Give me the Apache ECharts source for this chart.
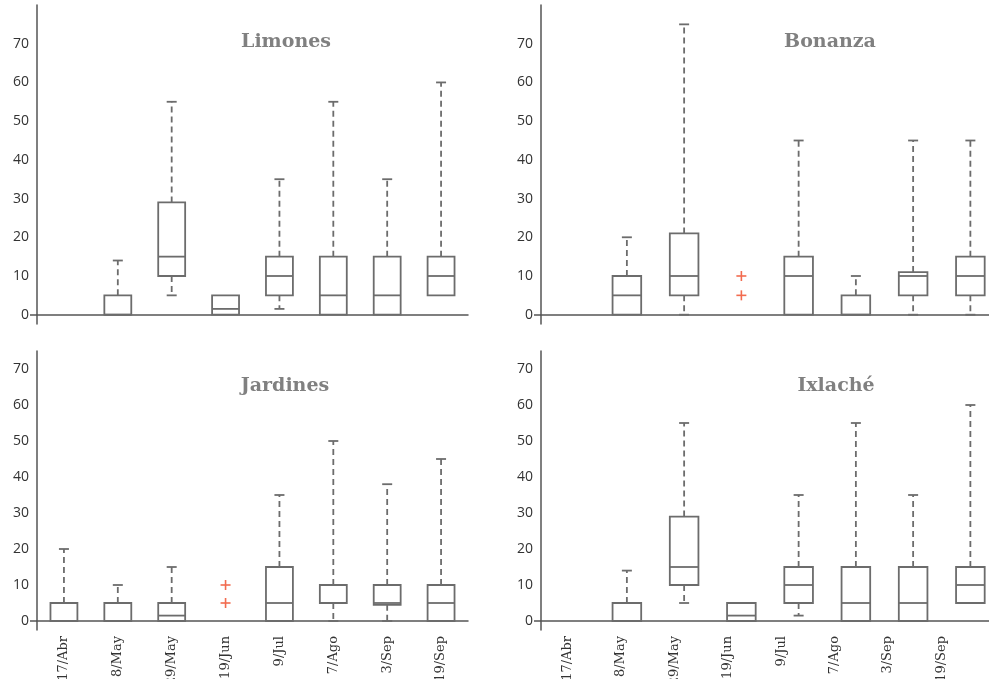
<!DOCTYPE html>
<html>
<head>
<meta charset="utf-8">
<script src="https://cdn.jsdelivr.net/npm/echarts@6/dist/echarts.min.js"></script>
<style>
  html, body { margin: 0; padding: 0; background: #ffffff; }
  #chart { width: 989px; height: 679px; }
</style>
</head>
<body>
<div id="chart"></div>
<script>
// Sampling dates shared by every site
const categories = ['17/Abr', '8/May', '29/May', '19/Jun', '9/Jul', '7/Ago', '3/Sep', '19/Sep'];
const yTickLabels = [0, 10, 20, 30, 40, 50, 60, 70];

// Box statistics per date: [min, Q1, median, Q3, max]; null = no box
const limones = [null, [0, 0, 0, 5, 14], [5, 10, 15, 29, 55], [0, 0, 1.5, 5, 5], [1.5, 5, 10, 15, 35], [0, 0, 5, 15, 55], [0, 0, 5, 15, 35], [5, 5, 10, 15, 60]];
const limonesOutliers = [];

const bonanza = [null, [0, 0, 5, 10, 20], [0, 5, 10, 21, 75], null, [0, 0, 10, 15, 45], [0, 0, 0, 5, 10], [0, 5, 10, 11, 45], [0, 5, 10, 15, 45]];
const bonanzaOutliers = [['19/Jun', 10], ['19/Jun', 5]];

const jardines = [[0, 0, 0, 5, 20], [0, 0, 0, 5, 10], [0, 0, 1.5, 5, 15], null, [0, 0, 5, 15, 35], [0, 5, 5, 10, 50], [0, 4.5, 5, 10, 38], [0, 0, 5, 10, 45]];
const jardinesOutliers = [['19/Jun', 10], ['19/Jun', 5]];

const ixlache = [null, [0, 0, 0, 5, 14], [5, 10, 15, 29, 55], [0, 0, 1.5, 5, 5], [1.5, 5, 10, 15, 35], [0, 0, 5, 15, 55], [0, 0, 5, 15, 35], [5, 5, 10, 15, 60]];
const ixlacheOutliers = [];

const titles = ['Limones', 'Bonanza', 'Jardines', 'Ixlaché'];

const BOX_COLOR = '#6c6c6c';
const AXIS_COLOR = '#555555';
const OUTLIER_COLOR = '#f26b4f';

function toRows(stats) {
  const rows = [];
  stats.forEach((s, i) => { if (s) rows.push([i].concat(s)); });
  return rows;
}

function renderBox(params, api) {
  const x = api.value(0);
  const cx = api.coord([x, 0])[0];
  const lo = api.coord([x, api.value(1)])[1];
  const q1 = api.coord([x, api.value(2)])[1];
  const med = api.coord([x, api.value(3)])[1];
  const q3 = api.coord([x, api.value(4)])[1];
  const hi = api.coord([x, api.value(5)])[1];
  const half = api.size([1, 0])[0] * 0.25;
  const cap = 5;
  const solid = { stroke: BOX_COLOR, lineWidth: 1.8, fill: 'none' };
  const dashed = { stroke: BOX_COLOR, lineWidth: 1.8, lineDash: [6, 4] };
  const children = [];
  if (hi < q3 - 0.5) {
    children.push({ type: 'line', shape: { x1: cx, y1: q3, x2: cx, y2: hi }, style: dashed });
    children.push({ type: 'line', shape: { x1: cx - cap, y1: hi, x2: cx + cap, y2: hi }, style: solid });
  }
  if (lo > q1 + 0.5) {
    children.push({ type: 'line', shape: { x1: cx, y1: q1, x2: cx, y2: lo }, style: dashed });
    children.push({ type: 'line', shape: { x1: cx - cap, y1: lo, x2: cx + cap, y2: lo }, style: solid });
  }
  children.push({ type: 'rect', shape: { x: cx - half, y: q3, width: half * 2, height: q1 - q3 }, style: solid });
  children.push({ type: 'line', shape: { x1: cx - half, y1: med, x2: cx + half, y2: med }, style: solid });
  return { type: 'group', children: children };
}

function renderPlus(params, api) {
  const p = api.coord([api.value(0), api.value(1)]);
  const r = 5;
  const st = { stroke: OUTLIER_COLOR, lineWidth: 1.6 };
  return {
    type: 'group',
    children: [
      { type: 'line', shape: { x1: p[0] - r, y1: p[1], x2: p[0] + r, y2: p[1] }, style: st },
      { type: 'line', shape: { x1: p[0], y1: p[1] - r, x2: p[0], y2: p[1] + r }, style: st }
    ]
  };
}

const grids = [
  { left: 37, top: 5, width: 431, height: 319 },
  { left: 541, top: 5, width: 458, height: 319 },
  { left: 37, top: 351, width: 431, height: 279 },
  { left: 541, top: 351, width: 458, height: 279 },
  // date labels under the Ixlaché panel
  { left: 541, top: 351, width: 427, height: 279 }
].map(g => Object.assign({ outerBoundsMode: 'none', containLabel: false }, g));

const yRange = [
  { min: -2.4, max: 80 },
  { min: -2.4, max: 80 },
  { min: -2.5, max: 75 },
  { min: -2.5, max: 75 },
  { min: -2.5, max: 75 }
];

const xLabelStyle = {
  rotate: 90,
  fontFamily: 'DejaVu Serif',
  fontSize: 13,
  color: '#333333',
  margin: 6
};

const xAxes = grids.map((g, i) => ({
  type: 'category',
  gridIndex: i,
  data: categories,
  boundaryGap: true,
  axisLine: { show: i !== 4, onZero: true, lineStyle: { color: AXIS_COLOR, width: 1.5 } },
  axisTick: { show: false },
  axisLabel: (i === 2 || i === 4) ? xLabelStyle : { show: false },
  splitLine: { show: false }
}));

const yAxes = grids.map((g, i) => ({
  type: 'value',
  gridIndex: i,
  show: i !== 4,
  min: yRange[i].min,
  max: yRange[i].max,
  axisLine: { show: true, lineStyle: { color: AXIS_COLOR, width: 1.5 } },
  axisTick: { show: true, length: 7, customValues: [0], lineStyle: { color: AXIS_COLOR, width: 1.5 } },
  axisLabel: {
    customValues: yTickLabels,
    fontFamily: 'Open Sans',
    fontSize: 14,
    color: '#333333',
    margin: 8
  },
  splitLine: { show: false }
}));

const stats = [limones, bonanza, jardines, ixlache];
const outliers = [limonesOutliers, bonanzaOutliers, jardinesOutliers, ixlacheOutliers];

const series = [];
stats.forEach((s, i) => {
  series.push({
    type: 'custom',
    xAxisIndex: i,
    yAxisIndex: i,
    renderItem: renderBox,
    encode: { x: 0, y: [1, 2, 3, 4, 5] },
    data: toRows(s),
    silent: true
  });
  series.push({
    type: 'custom',
    xAxisIndex: i,
    yAxisIndex: i,
    renderItem: renderPlus,
    encode: { x: 0, y: 1 },
    data: outliers[i].map(o => [categories.indexOf(o[0]), o[1]]),
    silent: true
  });
});

const titlePos = [
  { left: 286, top: 33 },
  { left: 830, top: 33 },
  { left: 285, top: 377 },
  { left: 836, top: 377 }
];

const option = {
  animation: false,
  backgroundColor: '#ffffff',
  title: titles.map((t, i) => ({
    text: t,
    left: titlePos[i].left,
    top: titlePos[i].top,
    textAlign: 'center',
    padding: 0,
    textStyle: {
      fontFamily: 'DejaVu Serif',
      fontWeight: 'bold',
      fontSize: 19,
      color: '#808080'
    }
  })),
  grid: grids,
  xAxis: xAxes,
  yAxis: yAxes,
  series: series
};

const chart = echarts.init(document.getElementById('chart'), null, { renderer: 'canvas' });
chart.setOption(option);
</script>
</body>
</html>
